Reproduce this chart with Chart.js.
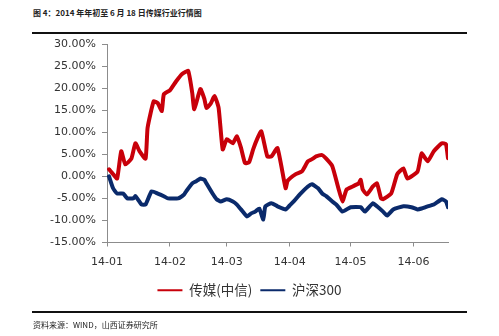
<!DOCTYPE html>
<html>
<head>
<meta charset="utf-8">
<script src="https://cdn.jsdelivr.net/npm/chart.js@4/dist/chart.umd.min.js"></script>
<style>
  body { margin: 0; background: #fff; }
  #wrap { position: relative; width: 499px; height: 336px; overflow: hidden; }
  #chart { position: absolute; left: 0; top: 0; }
  .note { position: absolute; left: 33px; font-family: "Noto Sans CJK SC", sans-serif; font-size: 8px; color: #222; white-space: nowrap; }
  #title { top: 7px; font-weight: bold; }
  #source { top: 319px; }
  .rule { position: absolute; left: 32px; width: 435px; height: 2px; background: #111; }
</style>
</head>
<body>
<div id="wrap">
  <div id="title" class="note">图 4：2014 年年初至 6 月 18 日传媒行业行情图</div>
  <div class="rule" style="top:32px"></div>
  <canvas id="chart" width="499" height="336"></canvas>
  <div class="rule" style="top:311px"></div>
  <div id="source" class="note">资料来源：WIND，山西证券研究所</div>
</div>
<script>
// days counted from 2014-01-01
const monthDays = [0, 31, 59, 90, 120, 151]
const monthLabels = ['14-01', '14-02', '14-03', '14-04', '14-05', '14-06']
const yTicks = [-15, -10, -5, 0, 5, 10, 15, 20, 25, 30]

// 传媒(中信), cumulative %
const mediaDays = [1,3,5,7,9,12,14,16,19,20,23,25,27,28,31,34,37,40,42,43,46,48,49,51,53,55,57,59,62,64,66,68,70,72,74,76,79,81,84,88,89,93,96,99,101,103,106,108,111,114,116,118,121,124,125,126,128,131,133,135,136,140,143,146,148,153,155,158,161,165,167,168]
const mediaValues = [1.6,0.5,-0.5,5.7,2.7,4.0,7.5,5.7,4.0,11,17,16.6,14.8,18.6,19.5,21.5,23.2,23.9,18.9,15.2,19.8,17.5,15.5,16.4,18.2,15.5,6.1,8.4,7.5,9.1,6.5,3.0,3.2,6.1,8.5,10.2,4.5,4.5,6.4,-2.7,-1.0,0.5,1.1,3.4,3.9,4.5,4.8,4.0,2.3,-2.7,-5.7,-3.0,-2.3,-1.6,-0.8,-3.0,-4.1,-2.3,-1.6,-5.0,-5.2,-3.9,0.5,1.8,-0.5,1.1,5.2,3.4,5.7,7.5,7.3,4.1]

// 沪深300, cumulative %
const hsDays = [1,3,5,8,10,13,14,17,19,22,25,28,30,35,38,39,42,44,46,48,49,52,54,56,59,62,64,66,69,71,73,75,77,78,81,84,88,90,92,95,99,101,104,106,108,111,113,116,120,125,127,131,133,136,138,141,146,150,153,155,158,161,165,167,168]
const hsValues = [0,-2.7,-3.9,-3.9,-5.0,-5.0,-4.5,-6.4,-6.4,-3.4,-3.9,-4.5,-5.0,-5.0,-4.1,-3.4,-1.6,-1.1,-0.5,-0.8,-1.6,-3.9,-5.2,-5.7,-5.2,-5.7,-6.4,-7.5,-9.1,-8.4,-8.0,-7.3,-9.8,-6.8,-6.1,-6.8,-7.5,-6.6,-5.7,-4.1,-2.3,-1.8,-2.7,-3.9,-4.5,-5.7,-6.4,-8.0,-7.0,-7.0,-8.0,-6.1,-6.8,-8.0,-8.9,-7.5,-6.8,-7.0,-7.5,-7.3,-6.8,-6.4,-5.2,-5.7,-7.0]

const red = '#c8000a'
const navy = '#0a2a6b'
const axisColor = '#8c8c8c'
const tickFont = { family: 'DejaVu Sans', size: 11 }

let ctx = document.getElementById('chart').getContext('2d')
new Chart(ctx, {
    type: 'line',
    data: {
        datasets: [{
            label: '传媒(中信)',
            data: mediaDays.map((d, i) => ({ x: d, y: mediaValues[i] })),
            borderColor: red,
            backgroundColor: red,
            borderWidth: 4,
            tension: 0.15
        }, {
            label: '沪深300',
            data: hsDays.map((d, i) => ({ x: d, y: hsValues[i] })),
            borderColor: navy,
            backgroundColor: navy,
            borderWidth: 4,
            tension: 0.15
        }]
    },
    options: {
        responsive: false,
        animation: false,
        layout: { padding: { top: 44, right: 0, bottom: 29, left: 0 } },
        elements: {
            point: { radius: 0 },
            line: { borderJoinStyle: 'round', borderCapStyle: 'round' }
        },
        scales: {
            x: {
                type: 'linear',
                min: 0,
                max: 168,
                afterBuildTicks: s => { s.ticks = monthDays.map(v => ({ value: v })) },
                afterFit: s => { s.height = 33 },
                ticks: {
                    callback: v => monthLabels[monthDays.indexOf(v)],
                    color: '#333',
                    font: tickFont,
                    padding: 9,
                    maxRotation: 0,
                    autoSkip: false
                },
                grid: { drawOnChartArea: false, tickLength: 4, color: axisColor },
                border: { color: axisColor }
            },
            y: {
                min: -15,
                max: 30,
                afterBuildTicks: s => { s.ticks = yTicks.map(v => ({ value: v })) },
                afterFit: s => { s.width = 107 },
                ticks: {
                    callback: v => v.toFixed(2) + '%',
                    color: '#333',
                    font: tickFont,
                    padding: 6
                },
                grid: { drawOnChartArea: false, tickLength: 5, color: axisColor },
                border: { color: axisColor }
            },
            // empty right margin so the legend stays centred on the page
            yRight: {
                position: 'right',
                display: true,
                afterFit: s => { s.width = 51 },
                ticks: { display: false },
                grid: { display: false },
                border: { display: false }
            }
        },
        plugins: {
            legend: {
                position: 'bottom',
                labels: {
                    boxWidth: 25,
                    boxHeight: 2,
                    padding: 8,
                    color: '#333',
                    font: { family: 'Noto Sans CJK SC', size: 13.5 },
                    generateLabels: chart => Chart.defaults.plugins.legend.labels.generateLabels(chart).map(l => Object.assign(l, { lineWidth: 0 }))
                }
            },
            tooltip: { enabled: false }
        }
    }
})
</script>
</body>
</html>
